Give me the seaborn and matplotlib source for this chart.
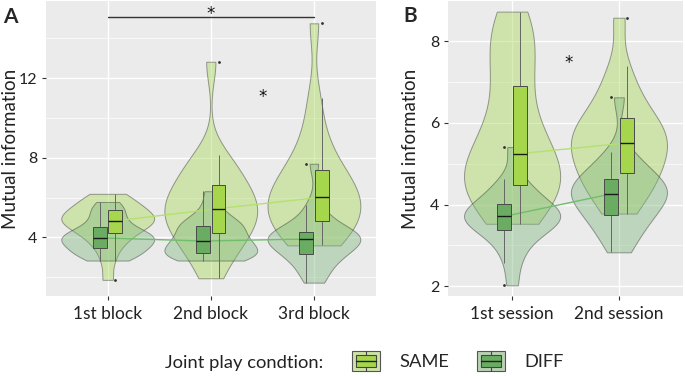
import matplotlib
matplotlib.use("Agg")
import matplotlib.pyplot as plt
import pandas as pd
import seaborn as sns
from matplotlib.legend_handler import HandlerBase
from matplotlib.lines import Line2D
from matplotlib.patches import Rectangle
from matplotlib.ticker import MultipleLocator

blocks = ["1st block", "2nd block", "3rd block"]
sessions = ["1st session", "2nd session"]
conditions = ["SAME", "DIFF"]

# mutual information per pair (panel A: blocks)
same_block1 = [1.87, 2.84, 3.45, 3.80, 4.05, 4.20, 4.45, 4.60, 4.70, 4.78, 4.83,
               4.92, 5.00, 5.10, 5.20, 5.36, 5.50, 5.65, 5.85, 6.00, 6.19]
diff_block1 = [2.84, 2.95, 3.10, 3.25, 3.38, 3.45, 3.60, 3.72, 3.82, 3.90, 3.98,
               4.05, 4.12, 4.22, 4.35, 4.50, 4.70, 5.00, 5.25, 5.50, 5.78]
same_block2 = [1.95, 2.70, 3.30, 3.70, 4.00, 4.22, 4.50, 4.80, 5.00, 5.20, 5.45,
               5.65, 5.85, 6.05, 6.30, 6.64, 7.00, 7.40, 7.80, 8.12, 12.82]
diff_block2 = [2.84, 2.90, 2.98, 3.05, 3.15, 3.21, 3.35, 3.48, 3.58, 3.70, 3.82,
               3.95, 4.10, 4.30, 4.48, 4.59, 4.70, 4.85, 5.10, 5.60, 6.32]
same_block3 = [3.60, 3.80, 4.10, 4.40, 4.65, 4.84, 5.15, 5.40, 5.60, 5.80, 6.02,
               6.25, 6.50, 6.80, 7.10, 7.38, 7.90, 8.60, 9.50, 11.02, 14.75]
diff_block3 = [1.73, 2.10, 2.50, 2.90, 3.05, 3.16, 3.35, 3.55, 3.72, 3.85, 3.92,
               3.98, 4.03, 4.08, 4.15, 4.27, 4.45, 4.70, 5.10, 5.65, 7.70]

# panel B: sessions
same_session1 = [3.53, 3.75, 3.95, 4.15, 4.35, 4.49, 4.62, 4.75, 4.88, 5.05, 5.25,
                 5.45, 5.70, 6.00, 6.40, 6.91, 7.30, 7.70, 8.05, 8.40, 8.73]
diff_session1 = [2.02, 2.56, 2.90, 3.10, 3.30, 3.38, 3.48, 3.55, 3.60, 3.66, 3.71,
                 3.76, 3.82, 3.88, 3.95, 4.02, 4.15, 4.30, 4.45, 4.63, 5.41]
same_session2 = [3.78, 4.05, 4.30, 4.50, 4.65, 4.77, 4.95, 5.10, 5.25, 5.38, 5.51,
                 5.62, 5.72, 5.85, 5.98, 6.12, 6.35, 6.60, 6.95, 7.39, 8.58]
diff_session2 = [2.83, 3.10, 3.35, 3.50, 3.65, 3.75, 3.88, 4.00, 4.10, 4.18, 4.26,
                 4.32, 4.40, 4.47, 4.55, 4.63, 4.75, 4.90, 5.08, 5.29, 6.63]

violin_colors = {"SAME": "#a6d854", "DIFF": "#7fb77e"}
box_colors = {"SAME": "#a6d64c", "DIFF": "#6aad62"}
line_colors = {"SAME": "#b4e070", "DIFF": "#72bd6c"}
key_bg = {"SAME": "#cde4a6", "DIFF": "#bad1b5"}

sns.set_theme(style="darkgrid", rc={"axes.facecolor": "#ebebeb",
                                    "grid.color": "white"})
plt.rcParams["font.family"] = ["Lato", "DejaVu Sans"]


def long_df(labels, same, diff):
    rows = []
    for lab, s, d in zip(labels, same, diff):
        rows += [(lab, "SAME", v) for v in s]
        rows += [(lab, "DIFF", v) for v in d]
    return pd.DataFrame(rows, columns=["x", "cond", "mi"])


def draw_panel(ax, df, order, ylim, yticks, minor):
    sns.violinplot(data=df, x="x", y="mi", hue="cond", order=order,
                   hue_order=conditions, dodge=False, cut=0, inner=None,
                   density_norm="width", width=0.9, bw_adjust=0.8,
                   palette=violin_colors, saturation=1, linecolor="#222222",
                   linewidth=0.7, alpha=0.42, legend=False, ax=ax)
    sns.pointplot(data=df, x="x", y="mi", hue="cond", order=order,
                  hue_order=["DIFF", "SAME"], estimator="median",
                  errorbar=None, dodge=0.15, markers="", linewidth=1,
                  palette=line_colors, legend=False, ax=ax)
    sns.boxplot(data=df, x="x", y="mi", hue="cond", order=order,
                hue_order=["DIFF", "SAME"], dodge=True, width=0.3, gap=0.1,
                palette=box_colors, saturation=1, linecolor="#4a4a4a",
                linewidth=0.7, showcaps=False, fliersize=1.0,
                flierprops=dict(marker="o", markerfacecolor="#333333",
                                markeredgecolor="#333333", zorder=4),
                boxprops=dict(zorder=3),
                whiskerprops=dict(zorder=2.5, color="#666666"),
                medianprops=dict(color="#1a1a1a", linewidth=1.0, zorder=4),
                legend=False, ax=ax)
    ax.set_xlim(-0.6, len(order) - 0.4)
    ax.set_ylim(*ylim)
    ax.set_yticks(yticks)
    ax.yaxis.set_minor_locator(MultipleLocator(minor))
    ax.grid(which="major", color="white", linewidth=1.0)
    ax.grid(which="minor", axis="y", color="white", linewidth=0.5)
    ax.tick_params(which="minor", length=0)
    ax.tick_params(which="major", length=3, width=0.8, color="#333333",
                   labelcolor="#222222", pad=4)
    ax.tick_params(axis="x", labelsize=12.5)
    ax.tick_params(axis="y", labelsize=11.5, pad=3)
    ax.tick_params(axis="both", which="major", left=True, bottom=True)
    for sp in ax.spines.values():
        sp.set_visible(False)
    ax.set_xlabel("")
    ax.set_ylabel("Mutual information", fontsize=13.5, color="#222222")


fig = plt.figure(figsize=(6.85, 3.76), dpi=100)
axA = fig.add_axes([45.8 / 685, 1 - 296 / 376, 330 / 685, 295 / 376])
axB = fig.add_axes([448 / 685, 1 - 296 / 376, 235 / 685, 295 / 376])

dfA = long_df(blocks, [same_block1, same_block2, same_block3],
              [diff_block1, diff_block2, diff_block3])
dfB = long_df(sessions, [same_session1, same_session2],
              [diff_session1, diff_session2])

draw_panel(axA, dfA, blocks, (1.06, 15.87), [4, 8, 12], 2)
draw_panel(axB, dfB, sessions, (1.76, 8.99), [2, 4, 6, 8], 1)
axA.yaxis.set_label_coords(-0.08, 0.5)
axB.yaxis.set_label_coords(-0.122, 0.5)

# significance marks
star = dict(ha="center", va="center", fontsize=12, family="DejaVu Sans",
            color="#111111")
axA.plot([0, 2], [15.08, 15.08], color="#333333", lw=1)
axA.text(1, 15.2, "*", **star)
axA.text(1.5, 11.05, "*", **star)
axB.text(0.53, 7.48, "*", **star)

fig.text(3 / 685, 1 - 23 / 376, "A", fontsize=15, weight="bold", va="baseline")
fig.text(403 / 685, 1 - 22 / 376, "B", fontsize=15, weight="bold", va="baseline")


class BoxKey(HandlerBase):
    def __init__(self, bg, fc):
        super().__init__()
        self.bg, self.fc = bg, fc

    def create_artists(self, legend, orig_handle, xdescent, ydescent,
                       width, height, fontsize, trans):
        x0, y0 = -xdescent, -ydescent
        bg = Rectangle((x0, y0), width, height, facecolor=self.bg,
                       edgecolor="#555555", lw=0.8, transform=trans)
        wh = Line2D([x0 + width / 2] * 2, [y0, y0 + height], color="#444444",
                    lw=0.8, transform=trans)
        bx = Rectangle((x0 + 0.15 * width, y0 + 0.2 * height), 0.7 * width,
                       0.6 * height, facecolor=self.fc, edgecolor="#444444",
                       lw=0.8, transform=trans)
        md = Line2D([x0 + 0.15 * width, x0 + 0.85 * width],
                    [y0 + height / 2] * 2, color="#222222", lw=1,
                    transform=trans)
        return [bg, wh, bx, md]


handles = [Rectangle((0, 0), 1, 1) for _ in conditions]
hmap = {h: BoxKey(key_bg[c], box_colors[c]) for h, c in zip(handles, conditions)}
fig.legend(handles, conditions, handler_map=hmap, loc="center left",
           bbox_to_anchor=(352 / 685, 1 - 361 / 376), ncol=2, frameon=False,
           fontsize=13.2, handlelength=1.53, handleheight=1.37,
           handletextpad=1.04, columnspacing=1.53, borderpad=0,
           borderaxespad=0)
fig.text(165 / 685, 1 - 368 / 376, "Joint play condtion:", fontsize=13.2,
         va="baseline", color="#222222")

fig.savefig("out.png", dpi=100)
